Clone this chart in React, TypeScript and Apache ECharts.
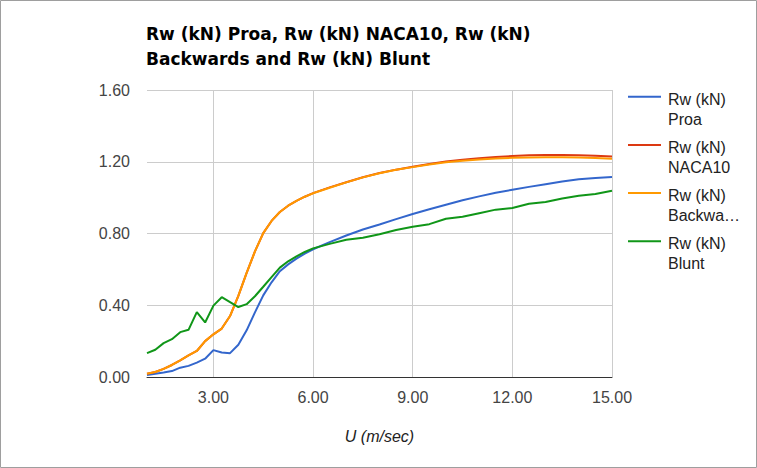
import React, { useEffect, useRef } from "react";
import * as echarts from "echarts";

const U = [1, 1.25, 1.5, 1.75, 2, 2.25, 2.5, 2.75, 3, 3.25, 3.5, 3.75, 4, 4.25, 4.5, 4.75, 5, 5.25, 5.5, 5.75, 6, 6.5, 7, 7.5, 8, 8.5, 9, 9.5, 10, 10.5, 11, 11.5, 12, 12.5, 13, 13.5, 14, 14.5, 15];

const proa = [0.011, 0.018, 0.025, 0.033, 0.052, 0.062, 0.08, 0.102, 0.15, 0.137, 0.133, 0.18, 0.26, 0.36, 0.455, 0.528, 0.59, 0.628, 0.66, 0.688, 0.712, 0.752, 0.789, 0.822, 0.85, 0.88, 0.909, 0.935, 0.96, 0.985, 1.007, 1.027, 1.044, 1.06, 1.075, 1.09, 1.102, 1.11, 1.115];

const naca10 = [0.018, 0.028, 0.045, 0.067, 0.093, 0.12, 0.145, 0.2, 0.238, 0.27, 0.34, 0.452, 0.58, 0.7, 0.802, 0.87, 0.92, 0.955, 0.982, 1.005, 1.025, 1.057, 1.086, 1.114, 1.137, 1.156, 1.172, 1.188, 1.201, 1.211, 1.22, 1.227, 1.232, 1.236, 1.238, 1.238, 1.236, 1.233, 1.229];

const backwards = [0.018, 0.028, 0.045, 0.067, 0.093, 0.12, 0.145, 0.2, 0.238, 0.27, 0.34, 0.452, 0.58, 0.7, 0.802, 0.87, 0.92, 0.955, 0.982, 1.005, 1.024, 1.055, 1.085, 1.113, 1.136, 1.155, 1.17, 1.185, 1.197, 1.206, 1.213, 1.218, 1.222, 1.224, 1.225, 1.225, 1.224, 1.221, 1.217];

const blunt = [0.133, 0.152, 0.189, 0.211, 0.25, 0.263, 0.362, 0.304, 0.398, 0.445, 0.418, 0.39, 0.406, 0.45, 0.503, 0.557, 0.61, 0.645, 0.673, 0.697, 0.717, 0.742, 0.765, 0.776, 0.796, 0.82, 0.838, 0.852, 0.882, 0.893, 0.913, 0.933, 0.942, 0.966, 0.976, 0.995, 1.01, 1.02, 1.038];

const seriesNames = ["Rw (kN) Proa", "Rw (kN) NACA10", "Rw (kN) Backwards", "Rw (kN) Blunt"];
const legendLabels = ["Rw (kN)\nProa", "Rw (kN)\nNACA10", "Rw (kN)\nBackwa…", "Rw (kN)\nBlunt"];
const colors = ["#3366cc", "#dc3912", "#ff9900", "#109618"];
const xTicks = [3, 6, 9, 12, 15];
const titleText = "Rw (kN) Proa, Rw (kN) NACA10, Rw (kN)\nBackwards and Rw (kN) Blunt";
const xAxisTitle = "U (m/sec)";

const FONT = "Arial, 'Liberation Sans', sans-serif";

export default function App() {
  const ref = useRef<HTMLDivElement>(null);
  useEffect(() => {
    if (!ref.current) return;
    const chart = echarts.init(ref.current, undefined, { renderer: "svg" });
    const allData = [proa, naca10, backwards, blunt];
    const legendGraphics: any[] = [];
    legendLabels.forEach((lbl, i) => {
      const y0 = 96.7 + 48.2 * i;
      legendGraphics.push({
        type: "line",
        shape: { x1: 628, y1: y0, x2: 661, y2: y0 },
        style: { stroke: colors[i], lineWidth: 2 },
      });
      legendGraphics.push({
        type: "text",
        x: 668,
        y: y0 - 7.4,
        style: {
          text: lbl,
          fill: "#222222",
          font: `16px ${FONT}`,
          lineHeight: 20,
          verticalAlign: "top",
          align: "left",
        },
      });
    });
    chart.setOption({
      animation: false,
      backgroundColor: "#ffffff",
      title: {
        text: titleText,
        left: 146,
        top: 21,
        padding: 0,
        textStyle: {
          fontFamily: "'DejaVu Sans', sans-serif",
          fontSize: 17,
          fontWeight: "bold",
          color: "#000000",
          lineHeight: 25,
        },
      },
      grid: { left: 147, right: 145, top: 90, bottom: 91, containLabel: false },
      xAxis: {
        type: "value",
        min: 1,
        max: 15,
        name: xAxisTitle,
        nameLocation: "middle",
        nameGap: 51,
        nameTextStyle: { fontFamily: FONT, fontSize: 16, fontStyle: "italic", color: "#222222" },
        axisLine: { show: true, lineStyle: { color: "#333333", width: 1 } },
        axisTick: { show: false, customValues: xTicks },
        axisLabel: {
          customValues: xTicks,
          formatter: (v: number) => v.toFixed(2),
          fontFamily: FONT,
          fontSize: 16,
          color: "#444444",
          margin: 12,
        },
        splitLine: { show: true, lineStyle: { color: "#cccccc", width: 1 } },
      },
      yAxis: {
        type: "value",
        min: 0,
        max: 1.6,
        interval: 0.4,
        axisLine: { show: false },
        axisTick: { show: false },
        axisLabel: {
          formatter: (v: number) => v.toFixed(2),
          fontFamily: FONT,
          fontSize: 16,
          color: "#444444",
          margin: 17,
        },
        splitLine: { show: true, lineStyle: { color: "#cccccc", width: 1 } },
      },
      series: seriesNames.map((name, i) => ({
        name,
        type: "line",
        data: U.map((u, j) => [u, allData[i][j]]),
        showSymbol: false,
        symbol: "none",
        smooth: false,
        lineStyle: { color: colors[i], width: 2 },
        itemStyle: { color: colors[i] },
        z: 2 + i,
      })),
      graphic: [
        {
          type: "rect",
          shape: { x: 0.5, y: 0.5, width: 756, height: 467 },
          style: { fill: "none", stroke: "#9e9e9e", lineWidth: 1 },
          z: 100,
        },
        ...legendGraphics,
      ],
    });
    return () => chart.dispose();
  }, []);
  return (
    <div
      ref={ref}
      style={{ position: "absolute", left: 0, top: 0, width: 757, height: 468 }}
    />
  );
}
